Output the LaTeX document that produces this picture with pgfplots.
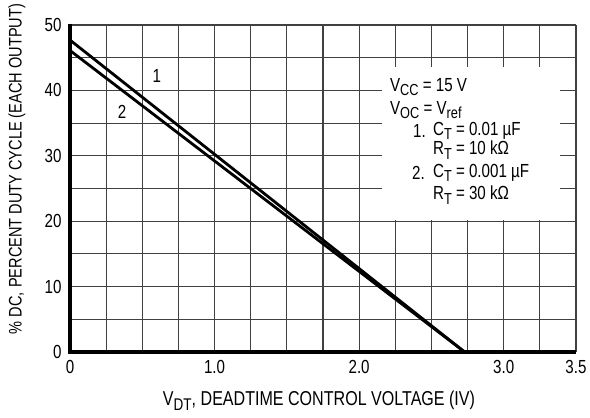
\documentclass[border=0pt]{standalone}
\usepackage{pgfplots}
\pgfplotsset{compat=1.18}
\usepackage{fontspec}
\setmainfont{Liberation Sans}[FakeStretch=0.8]
\newcommand{\sub}[1]{\raisebox{-0.45ex}{\fontsize{16}{16}\selectfont #1}}
\newcommand{\fs}{\fontsize{19}{19}\selectfont}
\begin{document}
\begin{tikzpicture}
\path[use as bounding box] (-70bp,-66bp) rectangle (520bp,352bp);
\begin{axis}[
  scale only axis, width=506bp, height=327bp,
  xmin=0, xmax=3.5, ymin=0, ymax=50,
  axis line style={draw=none},
  xtick={0,0.25,0.5,0.75,1.0,1.25,1.5,1.75,2.0,2.25,2.5,2.75,3.0,3.25,3.5},
  xticklabels={0,,,,1.0,,,,2.0,,,,3.0,,3.5},
  ytick={0,5,10,15,20,25,30,35,40,45,50},
  yticklabels={0,,10,,20,,30,,40,,50},
  major tick length=0pt,
  grid=major,
  grid style={black!75, line width=1.1bp},
  /pgf/number format/assume math mode=true,
  ticklabel style={font=\fs},
  xticklabel style={yshift=-5bp},
  yticklabel style={xshift=-5bp},
  clip=false,
]
\fill[white] (axis cs:2.16,20.2) rectangle (axis cs:3.39,43.6);
\draw[line width=3bp] (axis cs:0,50.2) -- (axis cs:0,0) -- (axis cs:3.5,0);
\addplot[black, line width=2.8bp] coordinates {(0,47.7) (2.73,0)};
\addplot[black, line width=2.8bp] coordinates {(0,46.1) (2.73,0)};
\node[font=\fs] at (axis cs:0.6,42.2) {1};
\node[font=\fs] at (axis cs:0.36,36.7) {2};
\begin{scope}[every node/.style={anchor=west, inner sep=0pt, font=\fs}]
\node at (axis cs:2.213,40.5) {V\sub{CC} = 15 V};
\node at (axis cs:2.213,37.0) {V\sub{OC} = V\sub{ref}};
\node at (axis cs:2.372,33.8) {1.};
\node at (axis cs:2.51,33.8) {C\sub{T} = 0.01 µF};
\node at (axis cs:2.51,30.9) {R\sub{T} = 10 kΩ};
\node at (axis cs:2.365,27.4) {2.};
\node at (axis cs:2.51,27.4) {C\sub{T} = 0.001 µF};
\node at (axis cs:2.51,24.0) {R\sub{T} = 30 kΩ};
\end{scope}
\end{axis}
\node[rotate=90, inner sep=0pt, font=\fs] at (-53bp,183bp) {\resizebox{330bp}{!}{\% DC, PERCENT DUTY CYCLE (EACH OUTPUT)}};
\node[inner sep=0pt, font=\fs] at (249bp,-49bp) {\resizebox{312bp}{!}{V\sub{DT}, DEADTIME CONTROL VOLTAGE (IV)}};
\end{tikzpicture}
\end{document}
